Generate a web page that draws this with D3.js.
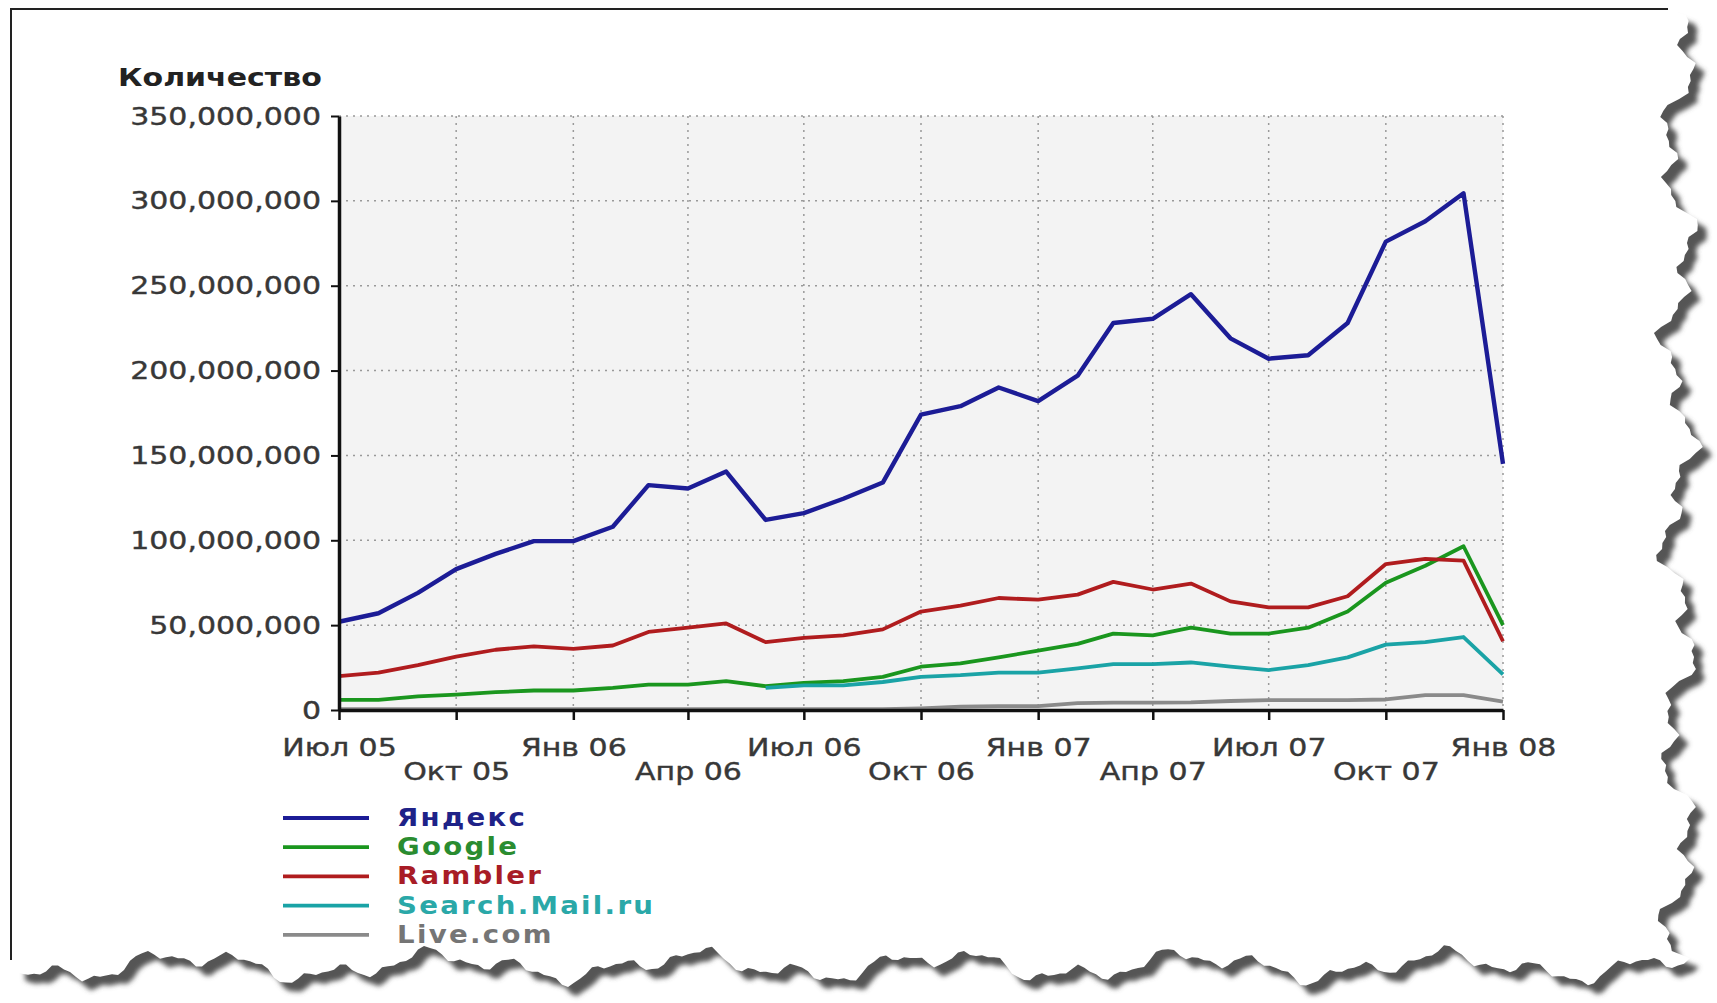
<!DOCTYPE html>
<html>
<head>
<meta charset="utf-8">
<script src="https://cdn.jsdelivr.net/npm/d3@7"></script>
<style>
  body { margin: 0; background: #fff; }
  svg { display: block; }
</style>
</head>
<body>
<svg id="chart" width="1717" height="1003"></svg>
<script>
// months Jul 2005 .. Jan 2008
var months = ["2005-07","2005-08","2005-09","2005-10","2005-11","2005-12",
  "2006-01","2006-02","2006-03","2006-04","2006-05","2006-06",
  "2006-07","2006-08","2006-09","2006-10","2006-11","2006-12",
  "2007-01","2007-02","2007-03","2007-04","2007-05","2007-06",
  "2007-07","2007-08","2007-09","2007-10","2007-11","2007-12","2008-01"];

// values in millions
var yandex = [52, 57, 69, 83, 92, 99.5, 99.5, 108, 132.5, 130.5, 140.5, 112,
  116, 124.5, 134, 174, 179, 190, 182, 197, 228, 230.5, 245, 219,
  207, 209, 228, 276, 288, 304.5, 145];
var google = [6, 6, 8, 9, 10.5, 11.5, 11.5, 13, 15, 15, 17, 14,
  16, 17, 19.5, 25.5, 27.5, 31, 35, 39, 45, 44, 48.5, 45,
  45, 48.5, 58, 75, 85, 96.5, 50];
var rambler = [20, 22, 26.5, 31.5, 35.5, 37.5, 36, 38, 46, 48.5, 51, 40,
  42.5, 44, 47.5, 58, 61.5, 66, 65, 68, 75.5, 71, 74.5, 64,
  60.5, 60.5, 67, 86, 89, 88, 40.5];
var mailru = [null, null, null, null, null, null, null, null, null, null, null, 13,
  14.5, 14.5, 16.5, 19.5, 20.5, 22, 22, 24.5, 27, 27, 28, 25.5,
  23.5, 26.5, 31, 38.5, 40, 43, 21];
var live = [0.5, 0.5, 0.5, 0.5, 0.5, 0.5, 0.5, 0.5, 0.5, 0.5, 0.5, 0.5,
  0.5, 0.5, 0.5, 1, 2, 2.3, 2.3, 4, 4.3, 4.3, 4.5, 5.3,
  5.8, 5.8, 5.8, 6.2, 8.8, 8.8, 5];

var seriesNames = ["Яндекс", "Google", "Rambler", "Search.Mail.ru", "Live.com"];
var seriesColors = ["#1c1c96", "#1a961e", "#b01c1e", "#1aa3a6", "#8a8a8a"];
var legendColors = ["#1e2288", "#2a8c30", "#a81c26", "#2aa8a8", "#757575"];

var yTicks = [0, 50, 100, 150, 200, 250, 300, 350];
var xTickMonths = ["2005-07","2005-10","2006-01","2006-04","2006-07","2006-10",
  "2007-01","2007-04","2007-07","2007-10","2008-01"];
var xTickLabels = ["Июл 05","Окт 05","Янв 06","Апр 06","Июл 06","Окт 06",
  "Янв 07","Апр 07","Июл 07","Окт 07","Янв 08"];

var parse = d3.timeParse("%Y-%m");
var svg = d3.select("#chart");

// ---- torn paper background ----
function wobble(t, a) {
  return a * (Math.sin(t * 0.7) + 0.7 * Math.sin(t * 1.9 + 1) + 0.35 * Math.sin(t * 4.3 + 2) + 0.15 * Math.sin(t * 9.1));
}
var edge = [[11, 9], [1668, 9]];
for (var yy = 15; yy <= 955; yy += 6) edge.push([1678 + wobble(yy / 22, 12), yy]);
for (var xx = 1690; xx >= 11; xx -= 6) edge.push([xx, 966 + wobble(xx / 28, 10)]);
var paperLine = d3.line();

var defs = svg.append("defs");
defs.append("filter").attr("id", "blur")
  .append("feGaussianBlur").attr("stdDeviation", 2.5);

svg.append("path")
  .attr("d", paperLine(edge) + "Z")
  .attr("fill", "#555")
  .attr("transform", "translate(9,9)")
  .attr("filter", "url(#blur)");
svg.append("path")
  .attr("d", paperLine(edge) + "Z")
  .attr("fill", "#fff");
svg.append("path")
  .attr("d", "M11,960V9H1668")
  .attr("fill", "none")
  .attr("stroke", "#222")
  .attr("stroke-width", 2);

// ---- scales ----
var x = d3.scaleTime()
  .domain([parse(months[0]), parse(months[months.length - 1])])
  .range([339, 1503]);
var y = d3.scaleLinear().domain([0, 350]).range([710, 116]);

var plot = svg.append("g");

plot.append("rect")
  .attr("x", x.range()[0]).attr("y", y(350))
  .attr("width", x.range()[1] - x.range()[0])
  .attr("height", y(0) - y(350))
  .attr("fill", "#f3f3f3");

// grid
plot.selectAll(".hgrid").data(yTicks.slice(1)).enter().append("line")
  .attr("x1", x.range()[0]).attr("x2", x.range()[1])
  .attr("y1", function(d) { return y(d); })
  .attr("y2", function(d) { return y(d); })
  .attr("stroke", "#999").attr("stroke-width", 1.5)
  .attr("stroke-dasharray", "2,5");
plot.selectAll(".vgrid").data(xTickMonths.slice(1)).enter().append("line")
  .attr("x1", function(d) { return x(parse(d)); })
  .attr("x2", function(d) { return x(parse(d)); })
  .attr("y1", y(350)).attr("y2", y(0))
  .attr("stroke", "#999").attr("stroke-width", 1.5)
  .attr("stroke-dasharray", "2,5");

// lines
var allSeries = [yandex, google, rambler, mailru, live];
var line = d3.line()
  .defined(function(d) { return d != null; })
  .x(function(d, i) { return x(parse(months[i])); })
  .y(function(d) { return y(d); });

plot.selectAll(".series").data(allSeries).enter().append("path")
  .attr("fill", "none")
  .attr("stroke", function(d, i) { return seriesColors[i]; })
  .attr("stroke-width", function(d, i) { return i === 0 ? 4.4 : 3.8; })
  .attr("stroke-linejoin", "round")
  .attr("d", line);

// axes
var fmt = d3.format(",");
var yAxis = d3.axisLeft(y).tickValues(yTicks)
  .tickFormat(function(d) { return fmt(d * 1e6); })
  .tickSize(8).tickSizeOuter(0);
var gy = svg.append("g").attr("transform", "translate(" + x.range()[0] + ",0)").call(yAxis);
gy.select(".domain").attr("stroke", "#111").attr("stroke-width", 3.5);
gy.selectAll(".tick line").attr("stroke", "#111").attr("stroke-width", 2);
gy.selectAll(".tick text")
  .attr("x", -15)
  .attr("transform", "scale(1.2,1)")
  .attr("fill", "#383838")
  .attr("stroke", "#383838").attr("stroke-width", 0.4)
  .style("font-family", "'DejaVu Sans', Verdana, sans-serif")
  .style("font-size", "25px");

var xAxis = d3.axisBottom(x)
  .tickValues(xTickMonths.map(parse))
  .tickFormat(function(d, i) { return xTickLabels[i]; })
  .tickSize(10).tickSizeOuter(0);
var gx = svg.append("g").attr("transform", "translate(0," + y(0) + ")").call(xAxis);
gx.select(".domain").attr("stroke", "#111").attr("stroke-width", 3.5);
gx.selectAll(".tick line").attr("stroke", "#111").attr("stroke-width", 2.5);
gx.selectAll(".tick text")
  .attr("y", function(d, i) { return i % 2 === 0 ? 28 : 52; })
  .attr("transform", "scale(1.2,1)")
  .attr("fill", "#383838")
  .attr("stroke", "#383838").attr("stroke-width", 0.4)
  .style("font-family", "'DejaVu Sans', Verdana, sans-serif")
  .style("font-size", "25px");

// axis title
svg.append("text")
  .attr("transform", "translate(118,86) scale(1.2,1)")
  .attr("fill", "#222")
  .style("font-family", "'DejaVu Sans', Verdana, sans-serif")
  .style("font-size", "25px")
  .style("font-weight", "bold")
  .text("Количество");

// legend
var legend = svg.append("g").attr("transform", "translate(283,818)");
var items = legend.selectAll(".item").data(seriesNames).enter().append("g")
  .attr("transform", function(d, i) { return "translate(0," + (i * 29.2) + ")"; });
items.append("line")
  .attr("x1", 0).attr("x2", 86)
  .attr("stroke", function(d, i) { return seriesColors[i]; })
  .attr("stroke-width", 3.8);
items.append("text")
  .attr("transform", "translate(114,8) scale(1.15,1)")
  .attr("fill", function(d, i) { return legendColors[i]; })
  .style("font-family", "'DejaVu Sans', Verdana, sans-serif")
  .style("font-size", "24px")
  .style("font-weight", "bold")
  .style("letter-spacing", "2px")
  .text(function(d) { return d; });
</script>
</body>
</html>
